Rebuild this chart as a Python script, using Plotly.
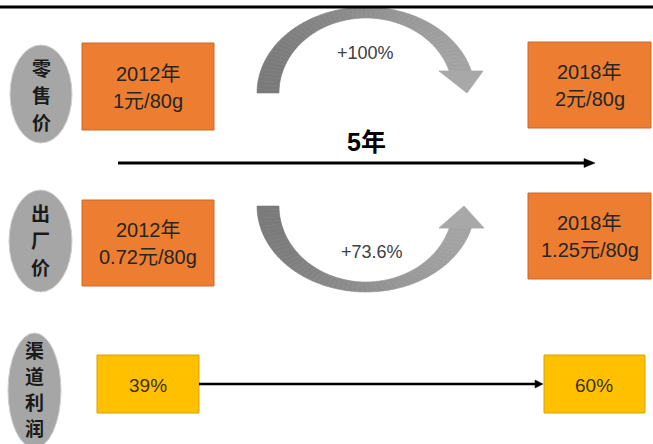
import numpy as np
import plotly.graph_objects as go

# ---------------- data ----------------
row_labels = ["零售价", "出厂价", "渠道利润"]
years = ["2012年", "2018年"]
retail_price = ["1元/80g", "2元/80g"]
factory_price = ["0.72元/80g", "1.25元/80g"]
channel_margin = ["39%", "60%"]
retail_growth = "+100%"
factory_growth = "+73.6%"
period_label = "5年"

# ---------------- layout helpers (pixel space) ----------------
W, H = 653, 444
FONT = "Liberation Sans, Noto Sans CJK SC, sans-serif"
CJK = "Noto Sans CJK SC, sans-serif"
shapes = []
ann = []

def rect(x0, y0, x1, y1, fill, line):
    shapes.append(dict(type="rect", xref="x", yref="y", x0=x0, y0=y0, x1=x1, y1=y1,
                       fillcolor=fill, line=dict(color=line, width=1), layer="below"))

def ellipse(x0, y0, x1, y1):
    shapes.append(dict(type="circle", xref="x", yref="y", x0=x0, y0=y0, x1=x1, y1=y1,
                       fillcolor="#a6a6a6", line=dict(color="#d0d0d0", width=1), layer="below"))

def poly(pts, fill, lw=0.6):
    d = "M " + " L ".join(f"{x:.2f},{y:.2f}" for x, y in pts) + " Z"
    shapes.append(dict(type="path", xref="x", yref="y", path=d, fillcolor=fill,
                       line=dict(color=fill, width=lw), layer="below"))

def text(x, y, s, size, color="#262626", bold=False, family=FONT):
    if bold:
        s = f"<b>{s}</b>"
    ann.append(dict(x=x, y=y, xref="x", yref="y", text=s, showarrow=False,
                    font=dict(size=size, color=color, family=family),
                    xanchor="center", yanchor="middle"))

def grey(t):
    a = np.array([0x78, 0x78, 0x78]); b = np.array([0xa9, 0xa9, 0xa9])
    c = (a + (b - a) * min(max(t, 0), 1)).astype(int)
    return "#%02x%02x%02x" % tuple(c)

def curved_arrow(cy, direction, end_dy, head, n=60):
    cx, rxo, rxi = 366, 109, 87
    ryo, ryi = (86, 75) if direction < 0 else (86, 76)
    to_end = np.arcsin(end_dy / ryo)
    ti_end = np.arcsin(end_dy / ryi)
    ts = np.linspace(0, 1, n + 1)
    def P(t, rx, ry, tend):
        th = np.pi + (tend - np.pi) * t
        return (cx + rx * np.cos(th), cy + direction * ry * np.sin(th))
    for k in range(n):
        t0, t1 = ts[k], ts[k + 1]
        o0 = P(t0, rxo, ryo, to_end); o1 = P(t1, rxo, ryo, to_end)
        i0 = P(t0, rxi, ryi, ti_end); i1 = P(t1, rxi, ryi, ti_end)
        xm = (o0[0] + o1[0] + i0[0] + i1[0]) / 4
        poly([o0, o1, i1, i0], grey((xm - 257) / 226))
    poly(head, "#a8a8a8", lw=0.8)

# ---------------- top rule ----------------
shapes.append(dict(type="line", xref="x", yref="y", x0=0, x1=W, y0=7, y1=7,
                   line=dict(color="#000000", width=3)))

# ---------------- row label ellipses ----------------
ell_boxes = [(10, 45, 72, 143), (9, 190, 72, 292), (8, 333, 61, 448)]
char_y = [[67, 94, 121], [212, 239, 266], [349, 375, 401, 427]]
for (x0, y0, x1, y1), lab, ys in zip(ell_boxes, row_labels, char_y):
    ellipse(x0, y0, x1, y1)
    for ch, yy in zip(lab, ys):
        text((x0 + x1) / 2, yy, ch, 19, color="#1a1a1a", bold=True, family=CJK)

# ---------------- orange boxes ----------------
orange, orange_line = "#ed7d31", "#c9692a"
box_pos = [
    [(82, 43, 214, 130), (528, 42, 651, 128)],
    [(82, 200, 214, 286), (528, 193, 651, 279)],
]
for r, prices in enumerate([retail_price, factory_price]):
    for c in range(2):
        x0, y0, x1, y1 = box_pos[r][c]
        rect(x0, y0, x1, y1, orange, orange_line)
        cxm, cym = (x0 + x1) / 2, (y0 + y1) / 2
        text(cxm, cym - 13, years[c], 20)
        text(cxm, cym + 14, prices[c], 20)

# ---------------- curved arrows ----------------
curved_arrow(93, -1, 22, [(439, 71), (483, 71), (467, 93)])
curved_arrow(206, +1, 22, [(439, 228), (484, 228), (464, 206)])
text(365, 53, retail_growth, 18, color="#404040")
text(372, 252, factory_growth, 18, color="#404040")

# ---------------- 5-year arrow ----------------
shapes.append(dict(type="line", xref="x", yref="y", x0=118, x1=586, y0=163, y1=163,
                   line=dict(color="#000000", width=3)))
poly([(584, 158.5), (595, 163), (584, 167.5)], "#000000", lw=0.5)
text(366, 142, period_label, 25, color="#000000", bold=True)

# ---------------- channel margin ----------------
yellow, yellow_line = "#ffc000", "#d4a20a"
rect(97, 355, 199, 413, yellow, yellow_line)
rect(544, 355, 645, 413, yellow, yellow_line)
shapes.append(dict(type="line", xref="x", yref="y", x0=199, x1=536, y0=384, y1=384,
                   line=dict(color="#000000", width=2.5)))
poly([(535, 380), (543, 384), (535, 388)], "#000000", lw=0.5)
text(148, 385, channel_margin[0], 19, color="#3b3000")
text(594, 385, channel_margin[1], 19, color="#3b3000")

fig = go.Figure()
fig.update_layout(
    width=W, height=H, margin=dict(l=0, r=0, t=0, b=0),
    paper_bgcolor="white", plot_bgcolor="white",
    xaxis=dict(range=[0, W], visible=False, fixedrange=True),
    yaxis=dict(range=[H, 0], visible=False, fixedrange=True),
    shapes=shapes, annotations=ann, showlegend=False,
)
fig.write_html("out.html")
